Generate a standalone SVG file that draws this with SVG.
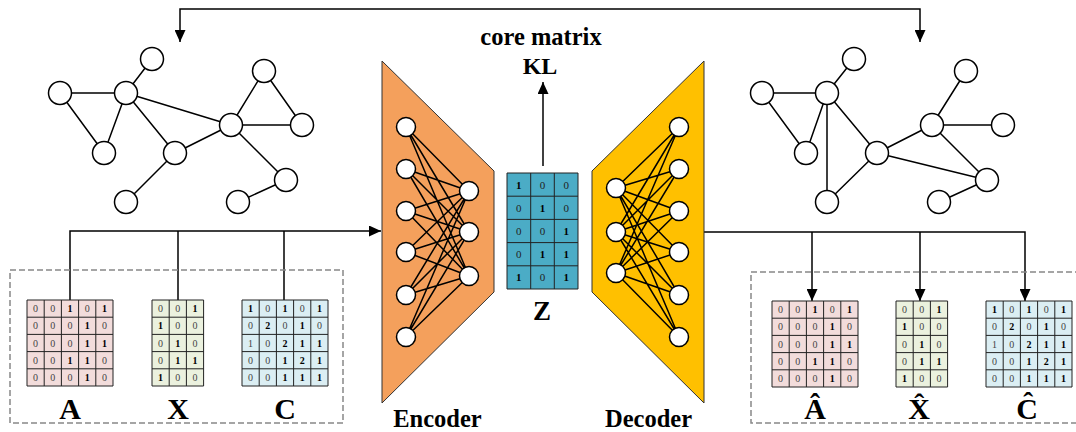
<svg xmlns="http://www.w3.org/2000/svg" width="1076" height="432" viewBox="0 0 1076 432">
<style>
.ln{fill:none;stroke:#000;stroke-width:1.5}
.nd{fill:#fff;stroke:#000;stroke-width:1.5}
.grid{fill:none;stroke:#222;stroke-width:1}
.dash{fill:none;stroke:#888;stroke-width:1.5;stroke-dasharray:6 3}
.ct{font-family:"Liberation Serif",serif;font-size:10px;text-anchor:middle;fill:#444}
.ct .b{font-weight:bold;fill:#000}
.zt{font-family:"Liberation Serif",serif;font-size:11px;text-anchor:middle;fill:#222}
.zt .b{font-weight:bold;fill:#000}
.lbl{font-family:"Liberation Serif",serif;font-weight:bold;text-anchor:middle;fill:#000}
</style>
<defs>
<marker id="ah" markerWidth="12" markerHeight="11" refX="12" refY="5.5" orient="auto-start-reverse" markerUnits="userSpaceOnUse">
<path d="M0 0L12 5.5L0 11Z" fill="#000"/>
</marker>
</defs>

<g id="connectors">
<path class="ln" d="M180 42V9H920V42" marker-start="url(#ah)" marker-end="url(#ah)"/>
<path class="ln" d="M70 300V231H381" marker-end="url(#ah)"/>
<path class="ln" d="M178 300V231"/>
<path class="ln" d="M284 300V231"/>
<path class="ln" d="M704 232H1025V301" marker-end="url(#ah)"/>
<path class="ln" d="M812 232V301" marker-end="url(#ah)"/>
<path class="ln" d="M920 232V301" marker-end="url(#ah)"/>
<path class="ln" d="M543 166V82" marker-end="url(#ah)"/>
</g>

<g id="graph-left">
<path class="ln" d="M152 59L126 93M60 93L126 93M60 93L104 153M126 93L104 153M126 93L175 153M126 93L231 125M175 153L231 125M175 153L126 202M231 125L264 71M264 71L302 125M231 125L302 125M231 125L286 180M286 180L238 202"/>
<circle class="nd" cx="152" cy="59" r="11.5"/>
<circle class="nd" cx="60" cy="93" r="11.5"/>
<circle class="nd" cx="126" cy="93" r="11.5"/>
<circle class="nd" cx="104" cy="153" r="11.5"/>
<circle class="nd" cx="175" cy="153" r="11.5"/>
<circle class="nd" cx="231" cy="125" r="11.5"/>
<circle class="nd" cx="264" cy="71" r="11.5"/>
<circle class="nd" cx="302" cy="125" r="11.5"/>
<circle class="nd" cx="286" cy="180" r="11.5"/>
<circle class="nd" cx="126" cy="202" r="11.5"/>
<circle class="nd" cx="238" cy="202" r="11.5"/>
</g>

<g id="graph-right">
<path class="ln" d="M854 59L827 93M762 93L827 93M762 93L806 153M827 93L806 153M827 93L827 202M827 93L877 153M877 153L827 202M877 153L932 125M877 153L987 180M932 125L966 71M932 125L1003 125M932 125L987 180M987 180L939 202"/>
<circle class="nd" cx="854" cy="59" r="11.5"/>
<circle class="nd" cx="762" cy="93" r="11.5"/>
<circle class="nd" cx="827" cy="93" r="11.5"/>
<circle class="nd" cx="806" cy="153" r="11.5"/>
<circle class="nd" cx="877" cy="153" r="11.5"/>
<circle class="nd" cx="932" cy="125" r="11.5"/>
<circle class="nd" cx="966" cy="71" r="11.5"/>
<circle class="nd" cx="1003" cy="125" r="11.5"/>
<circle class="nd" cx="987" cy="180" r="11.5"/>
<circle class="nd" cx="827" cy="202" r="11.5"/>
<circle class="nd" cx="939" cy="202" r="11.5"/>
</g>

<g id="encoder">
<path d="M382 61L494 171V292L382 403Z" fill="#F4A05C" stroke="#333" stroke-width="1"/>
<path class="ln" d="M406 127L469 191M406 127L469 232M406 127L469 276M406 169L469 191M406 169L469 232M406 169L469 276M406 211L469 191M406 211L469 232M406 211L469 276M406 252L469 191M406 252L469 232M406 252L469 276M406 295L469 191M406 295L469 232M406 295L469 276M406 337L469 191M406 337L469 232M406 337L469 276"/>
<circle class="nd" cx="406" cy="127" r="9.5"/>
<circle class="nd" cx="406" cy="169" r="9.5"/>
<circle class="nd" cx="406" cy="211" r="9.5"/>
<circle class="nd" cx="406" cy="252" r="9.5"/>
<circle class="nd" cx="406" cy="295" r="9.5"/>
<circle class="nd" cx="406" cy="337" r="9.5"/>
<circle class="nd" cx="469" cy="191" r="9.5"/>
<circle class="nd" cx="469" cy="232" r="9.5"/>
<circle class="nd" cx="469" cy="276" r="9.5"/>
<text class="lbl" x="437.5" y="427" font-size="24.5">Encoder</text>
</g>

<g id="decoder">
<path d="M704 61L592 171V292L704 403Z" fill="#FFC000" stroke="#333" stroke-width="1"/>
<path class="ln" d="M616 188L679 127M616 188L679 169M616 188L679 211M616 188L679 252M616 188L679 295M616 188L679 337M616 232L679 127M616 232L679 169M616 232L679 211M616 232L679 252M616 232L679 295M616 232L679 337M616 273L679 127M616 273L679 169M616 273L679 211M616 273L679 252M616 273L679 295M616 273L679 337"/>
<circle class="nd" cx="616" cy="188" r="9.5"/>
<circle class="nd" cx="616" cy="232" r="9.5"/>
<circle class="nd" cx="616" cy="273" r="9.5"/>
<circle class="nd" cx="679" cy="127" r="9.5"/>
<circle class="nd" cx="679" cy="169" r="9.5"/>
<circle class="nd" cx="679" cy="211" r="9.5"/>
<circle class="nd" cx="679" cy="252" r="9.5"/>
<circle class="nd" cx="679" cy="295" r="9.5"/>
<circle class="nd" cx="679" cy="337" r="9.5"/>
<text class="lbl" x="648.5" y="427" font-size="24.5">Decoder</text>
</g>

<g id="kl-label">
<text class="lbl" x="541" y="45" font-size="24.5">core matrix</text>
<text class="lbl" x="540" y="74" font-size="24">KL</text>
</g>

<g id="matrix-Z">
<rect x="507" y="173" width="71" height="116" fill="#4BACC6"/>
<path class="grid" d="M507 173H578V289H507ZM530.7 173V289M554.3 173V289M507 196.2H578M507 219.4H578M507 242.6H578M507 265.8H578"/>
<text class="zt" y="188.6"><tspan x="518.8" class="b">1</tspan><tspan x="542.5">0</tspan><tspan x="566.2">0</tspan></text>
<text class="zt" y="211.8"><tspan x="518.8">0</tspan><tspan x="542.5" class="b">1</tspan><tspan x="566.2">0</tspan></text>
<text class="zt" y="235"><tspan x="518.8">0</tspan><tspan x="542.5">0</tspan><tspan x="566.2" class="b">1</tspan></text>
<text class="zt" y="258.2"><tspan x="518.8">0</tspan><tspan x="542.5" class="b">1</tspan><tspan x="566.2" class="b">1</tspan></text>
<text class="zt" y="281.4"><tspan x="518.8" class="b">1</tspan><tspan x="542.5">0</tspan><tspan x="566.2" class="b">1</tspan></text>
<text class="lbl" x="542" y="320" font-size="27">Z</text>
</g>

<g id="input-box">
<rect class="dash" x="10" y="270" width="333" height="153"/>
</g>

<g id="matrix-A" transform="translate(27,300)">
<rect width="86" height="86" fill="#F2DCDB"/>
<path class="grid" d="M0 0H86V86H0ZM17.2 0V86M34.4 0V86M51.6 0V86M68.8 0V86M0 17.2H86M0 34.4H86M0 51.6H86M0 68.8H86"/>
<text class="ct" y="12.1"><tspan x="8.6">0</tspan><tspan x="25.8">0</tspan><tspan x="43" class="b">1</tspan><tspan x="60.2">0</tspan><tspan x="77.4" class="b">1</tspan></text>
<text class="ct" y="29.3"><tspan x="8.6">0</tspan><tspan x="25.8">0</tspan><tspan x="43">0</tspan><tspan x="60.2" class="b">1</tspan><tspan x="77.4">0</tspan></text>
<text class="ct" y="46.5"><tspan x="8.6">0</tspan><tspan x="25.8">0</tspan><tspan x="43">0</tspan><tspan x="60.2" class="b">1</tspan><tspan x="77.4" class="b">1</tspan></text>
<text class="ct" y="63.7"><tspan x="8.6">0</tspan><tspan x="25.8">0</tspan><tspan x="43" class="b">1</tspan><tspan x="60.2" class="b">1</tspan><tspan x="77.4">0</tspan></text>
<text class="ct" y="80.9"><tspan x="8.6">0</tspan><tspan x="25.8">0</tspan><tspan x="43">0</tspan><tspan x="60.2" class="b">1</tspan><tspan x="77.4">0</tspan></text>
<text class="lbl" x="43" y="119" font-size="30">A</text>
</g>

<g id="matrix-X" transform="translate(152,300)">
<rect width="51.6" height="86" fill="#EBF1DE"/>
<path class="grid" d="M0 0H51.6V86H0ZM17.2 0V86M34.4 0V86M0 17.2H51.6M0 34.4H51.6M0 51.6H51.6M0 68.8H51.6"/>
<text class="ct" y="12.1"><tspan x="8.6">0</tspan><tspan x="25.8">0</tspan><tspan x="43" class="b">1</tspan></text>
<text class="ct" y="29.3"><tspan x="8.6" class="b">1</tspan><tspan x="25.8">0</tspan><tspan x="43">0</tspan></text>
<text class="ct" y="46.5"><tspan x="8.6">0</tspan><tspan x="25.8" class="b">1</tspan><tspan x="43">0</tspan></text>
<text class="ct" y="63.7"><tspan x="8.6">0</tspan><tspan x="25.8" class="b">1</tspan><tspan x="43" class="b">1</tspan></text>
<text class="ct" y="80.9"><tspan x="8.6" class="b">1</tspan><tspan x="25.8">0</tspan><tspan x="43">0</tspan></text>
<text class="lbl" x="26" y="119" font-size="30">X</text>
</g>

<g id="matrix-C" transform="translate(242,300)">
<rect width="86" height="86" fill="#DBEEF3"/>
<path class="grid" d="M0 0H86V86H0ZM17.2 0V86M34.4 0V86M51.6 0V86M68.8 0V86M0 17.2H86M0 34.4H86M0 51.6H86M0 68.8H86"/>
<text class="ct" y="12.1"><tspan x="8.6" class="b">1</tspan><tspan x="25.8">0</tspan><tspan x="43" class="b">1</tspan><tspan x="60.2">0</tspan><tspan x="77.4" class="b">1</tspan></text>
<text class="ct" y="29.3"><tspan x="8.6">0</tspan><tspan x="25.8" class="b">2</tspan><tspan x="43">0</tspan><tspan x="60.2" class="b">1</tspan><tspan x="77.4">0</tspan></text>
<text class="ct" y="46.5"><tspan x="8.6">1</tspan><tspan x="25.8">0</tspan><tspan x="43" class="b">2</tspan><tspan x="60.2" class="b">1</tspan><tspan x="77.4" class="b">1</tspan></text>
<text class="ct" y="63.7"><tspan x="8.6">0</tspan><tspan x="25.8">0</tspan><tspan x="43" class="b">1</tspan><tspan x="60.2" class="b">2</tspan><tspan x="77.4" class="b">1</tspan></text>
<text class="ct" y="80.9"><tspan x="8.6">0</tspan><tspan x="25.8">0</tspan><tspan x="43" class="b">1</tspan><tspan x="60.2" class="b">1</tspan><tspan x="77.4" class="b">1</tspan></text>
<text class="lbl" x="43" y="119" font-size="30">C</text>
</g>

<g id="output-box">
<rect class="dash" x="751" y="272" width="335" height="151"/>
</g>

<g id="matrix-A-hat" transform="translate(772,301)">
<rect width="86" height="86" fill="#F2DCDB"/>
<path class="grid" d="M0 0H86V86H0ZM17.2 0V86M34.4 0V86M51.6 0V86M68.8 0V86M0 17.2H86M0 34.4H86M0 51.6H86M0 68.8H86"/>
<text class="ct" y="12.1"><tspan x="8.6">0</tspan><tspan x="25.8">0</tspan><tspan x="43" class="b">1</tspan><tspan x="60.2">0</tspan><tspan x="77.4" class="b">1</tspan></text>
<text class="ct" y="29.3"><tspan x="8.6">0</tspan><tspan x="25.8">0</tspan><tspan x="43">0</tspan><tspan x="60.2" class="b">1</tspan><tspan x="77.4">0</tspan></text>
<text class="ct" y="46.5"><tspan x="8.6">0</tspan><tspan x="25.8">0</tspan><tspan x="43">0</tspan><tspan x="60.2" class="b">1</tspan><tspan x="77.4" class="b">1</tspan></text>
<text class="ct" y="63.7"><tspan x="8.6">0</tspan><tspan x="25.8">0</tspan><tspan x="43" class="b">1</tspan><tspan x="60.2" class="b">1</tspan><tspan x="77.4">0</tspan></text>
<text class="ct" y="80.9"><tspan x="8.6">0</tspan><tspan x="25.8">0</tspan><tspan x="43">0</tspan><tspan x="60.2" class="b">1</tspan><tspan x="77.4">0</tspan></text>
<text class="lbl" x="43" y="118" font-size="30">Â</text>
</g>

<g id="matrix-X-hat" transform="translate(896,301)">
<rect width="51.6" height="86" fill="#EBF1DE"/>
<path class="grid" d="M0 0H51.6V86H0ZM17.2 0V86M34.4 0V86M0 17.2H51.6M0 34.4H51.6M0 51.6H51.6M0 68.8H51.6"/>
<text class="ct" y="12.1"><tspan x="8.6">0</tspan><tspan x="25.8">0</tspan><tspan x="43" class="b">1</tspan></text>
<text class="ct" y="29.3"><tspan x="8.6" class="b">1</tspan><tspan x="25.8">0</tspan><tspan x="43">0</tspan></text>
<text class="ct" y="46.5"><tspan x="8.6">0</tspan><tspan x="25.8" class="b">1</tspan><tspan x="43">0</tspan></text>
<text class="ct" y="63.7"><tspan x="8.6">0</tspan><tspan x="25.8" class="b">1</tspan><tspan x="43" class="b">1</tspan></text>
<text class="ct" y="80.9"><tspan x="8.6" class="b">1</tspan><tspan x="25.8">0</tspan><tspan x="43">0</tspan></text>
<text class="lbl" x="23" y="118" font-size="30">X̂</text>
</g>

<g id="matrix-C-hat" transform="translate(986,301)">
<rect width="86" height="86" fill="#DBEEF3"/>
<path class="grid" d="M0 0H86V86H0ZM17.2 0V86M34.4 0V86M51.6 0V86M68.8 0V86M0 17.2H86M0 34.4H86M0 51.6H86M0 68.8H86"/>
<text class="ct" y="12.1"><tspan x="8.6" class="b">1</tspan><tspan x="25.8">0</tspan><tspan x="43" class="b">1</tspan><tspan x="60.2">0</tspan><tspan x="77.4" class="b">1</tspan></text>
<text class="ct" y="29.3"><tspan x="8.6">0</tspan><tspan x="25.8" class="b">2</tspan><tspan x="43">0</tspan><tspan x="60.2" class="b">1</tspan><tspan x="77.4">0</tspan></text>
<text class="ct" y="46.5"><tspan x="8.6">1</tspan><tspan x="25.8">0</tspan><tspan x="43" class="b">2</tspan><tspan x="60.2" class="b">1</tspan><tspan x="77.4" class="b">1</tspan></text>
<text class="ct" y="63.7"><tspan x="8.6">0</tspan><tspan x="25.8">0</tspan><tspan x="43" class="b">1</tspan><tspan x="60.2" class="b">2</tspan><tspan x="77.4" class="b">1</tspan></text>
<text class="ct" y="80.9"><tspan x="8.6">0</tspan><tspan x="25.8">0</tspan><tspan x="43" class="b">1</tspan><tspan x="60.2" class="b">1</tspan><tspan x="77.4" class="b">1</tspan></text>
<text class="lbl" x="41" y="118" font-size="30">Ĉ</text>
</g>
</svg>
